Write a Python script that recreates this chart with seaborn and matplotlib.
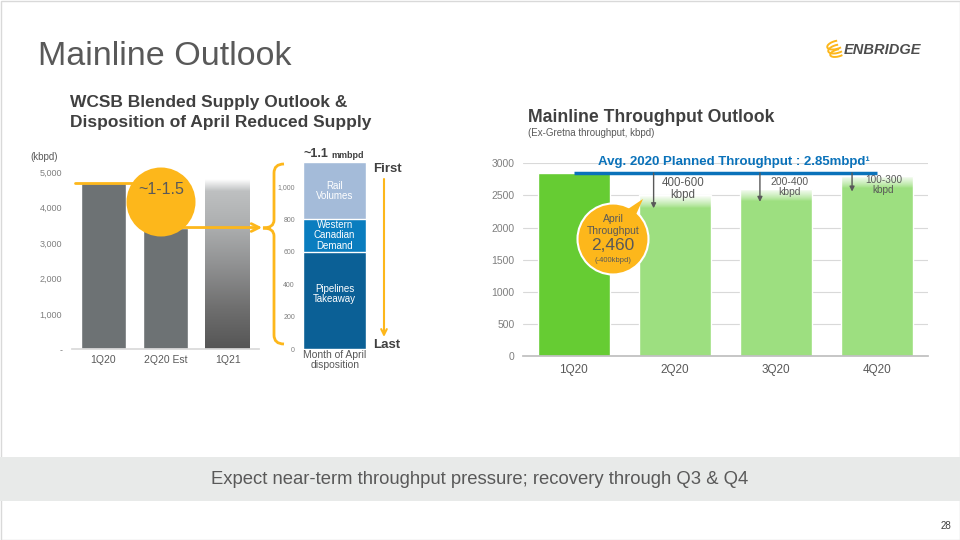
import numpy as np
import matplotlib
matplotlib.use("Agg")
import matplotlib.pyplot as plt
import seaborn as sns
from matplotlib.patches import Circle, Polygon, PathPatch, Rectangle, Arc
from matplotlib.path import Path

# ---------------- data ----------------
supply_periods = ["1Q20", "2Q20 Est", "1Q21"]
supply_kbpd = [4690, 3440, 4780]
supply_ticks = [0, 1000, 2000, 3000, 4000, 5000]
supply_ticklabels = ["-", "1,000", "2,000", "3,000", "4,000", "5,000"]

disp_category = ["Month of April\ndisposition"]
disp_segments = ["Pipelines\nTakeaway", "Western\nCanadian\nDemand", "Rail\nVolumes"]
disp_kbpd = [600, 200, 350]
disp_ticks = [0, 200, 400, 600, 800, 1000]
disp_ticklabels = ["0", "200", "400", "600", "800", "1,000"]

quarters = ["1Q20", "2Q20", "3Q20", "4Q20"]
throughput = [2850, 2500, 2600, 2800]
throughput_ticks = [0, 500, 1000, 1500, 2000, 2500, 3000]
planned_avg = 2850
reduction_labels = ["400-600\nkbpd", "200-400\nkbpd", "100-300\nkbpd"]
reduction_arrow_end = [2300, 2400, 2560]
april_throughput = 2460
april_change = -400

# ---------------- style ----------------
sns.set_theme(style="white")
plt.rcParams["font.family"] = ["Liberation Sans", "DejaVu Sans"]

GRAY_TXT = "#595959"
DARK_TXT = "#404040"
ORANGE = "#FDB71B"

fig = plt.figure(figsize=(9.6, 5.4), dpi=100)
W, H = 960, 540


def ax_px(l, t, r, b, **kw):
    return fig.add_axes([l / W, 1 - b / H, (r - l) / W, (b - t) / H], **kw)


# ---------------- left: supply bars ----------------
ax1 = ax_px(72, 172.3, 259, 349.3)
sns.barplot(x=supply_periods, y=supply_kbpd, hue=supply_periods,
            palette=["#6D7274"] * 3, legend=False, width=0.72,
            saturation=1, ax=ax1, zorder=2)
bar = ax1.patches[2]
x0, w, h = bar.get_x(), bar.get_width(), bar.get_height()
bar.set_facecolor("none")
n = 300
pos = np.linspace(1, 0, n)  # top -> bottom
stops = [0.0, 0.25, 0.5, 0.72, 0.93, 1.0]
cols = np.array([[85, 85, 85], [112, 112, 112], [145, 146, 147],
                 [172, 174, 175], [190, 192, 193], [255, 255, 255]]) / 255
grad = np.stack([np.interp(pos, stops, cols[:, c]) for c in range(3)], axis=1)
ax1.imshow(grad[:, None, :], extent=[x0, x0 + w, 0, h], aspect="auto",
           origin="upper", zorder=2.5)
ax1.set_xlim(-0.5, 2.5)
ax1.set_ylim(0, 5000)
ax1.set_yticks(supply_ticks)
ax1.set_yticklabels(supply_ticklabels)
ax1.tick_params(axis="y", length=0, pad=7, labelsize=6.5, labelcolor="#7F7F7F")
ax1.tick_params(axis="x", length=0, pad=4, labelsize=7.5, labelcolor=GRAY_TXT)
for s in ["left", "top", "right"]:
    ax1.spines[s].set_visible(False)
ax1.spines["bottom"].set_color("#D9D9D9")
ax1.set_xlabel("")
ax1.set_ylabel("")
ax1.grid(False)
# orange reference line and arrow
ax1.plot([-0.45, 0.9], [supply_kbpd[0]] * 2, color=ORANGE, lw=2,
         clip_on=False, zorder=4)
ax1.annotate("", xy=(2.55, supply_kbpd[1]), xytext=(1.0, supply_kbpd[1]),
             arrowprops=dict(arrowstyle="->", color=ORANGE, lw=2,
                             mutation_scale=14, shrinkA=0, shrinkB=0),
             annotation_clip=False, zorder=4)

# ---------------- middle: stacked disposition ----------------
ax2 = ax_px(303.3, 154.2, 366, 349)
seg_colors = ["#0B6096", "#0A7DBF", "#A4BBD9"]
cum = np.cumsum(disp_kbpd)
for i in reversed(range(len(disp_kbpd))):
    sns.barplot(x=disp_category, y=[cum[i]], color=seg_colors[i],
                saturation=1, width=1.0, ax=ax2)
offsets = [40, 0, 0]
for i, lab in enumerate(disp_segments):
    ax2.text(0, cum[i] - disp_kbpd[i] / 2 + offsets[i], lab, ha="center",
             va="center", color="white", fontsize=7, linespacing=1.05)
ax2.set_xlim(-0.5, 0.5)
ax2.set_ylim(0, 1200)
ax2.set_yticks(disp_ticks)
ax2.set_yticklabels(disp_ticklabels)
ax2.tick_params(axis="y", length=0, pad=6, labelsize=5, labelcolor="#7F7F7F")
ax2.tick_params(axis="x", length=0, pad=1, labelsize=7.5, labelcolor=GRAY_TXT)
for lbl in ax2.get_xticklabels():
    lbl.set_linespacing(0.95)
for s in ax2.spines.values():
    s.set_visible(False)
ax2.set_xlabel("")
ax2.set_ylabel("")
ax2.grid(False)

# ---------------- right: throughput ----------------
ax3 = ax_px(523, 163.3, 928, 356)
sns.barplot(x=quarters, y=throughput, hue=quarters,
            palette=["#66CC33"] + ["#9DDF80"] * 3, legend=False, width=0.71,
            saturation=1, ax=ax3, zorder=2)
fade = np.ones((100, 1, 4))
fade[:, 0, 3] = np.linspace(1, 0, 100) ** 0.8
for p in ax3.patches[1:]:
    px0, pw, ph = p.get_x(), p.get_width(), p.get_height()
    ax3.imshow(fade, extent=[px0, px0 + pw, ph - 190, ph], aspect="auto",
               origin="upper", zorder=2.5)
ax3.set_xlim(-0.5, 3.5)
ax3.set_ylim(0, 3000)
ax3.set_yticks(throughput_ticks)
ax3.yaxis.grid(True, color="#D9D9D9", lw=0.8)
ax3.xaxis.grid(False)
ax3.set_axisbelow(True)
ax3.tick_params(axis="y", length=0, pad=6, labelsize=7.5, labelcolor="#7F7F7F")
ax3.tick_params(axis="x", which="major", length=0, pad=6, labelsize=8.5,
                labelcolor=GRAY_TXT)
ax3.set_xticks(np.arange(len(quarters) + 1) - 0.5, minor=True)
ax3.tick_params(axis="x", which="minor", length=4, color="#BFBFBF", width=0.8)
for s in ["left", "top", "right"]:
    ax3.spines[s].set_visible(False)
ax3.spines["bottom"].set_color("#BFBFBF")
ax3.set_xlabel("")
ax3.set_ylabel("")
ax3.hlines(planned_avg, 0, len(quarters) - 1, color="#0A72BA", lw=2.5, zorder=5)
ax3.text(1.58, planned_avg + 170, "Avg. 2020 Planned Throughput : 2.85mbpd\u00b9",
         ha="center", va="center", color="#0A72BA", fontsize=9.5,
         fontweight="bold", zorder=6)
arrow_x = [0.79, 1.84, 2.75]
label_pos = [(1.08, 2600, 8.3), (2.13, 2630, 7.5), (3.06, 2660, 7.2)]
for ax_x, yend, lab, (lx, ly, fs) in zip(arrow_x, reduction_arrow_end,
                                         reduction_labels, label_pos):
    ax3.annotate("", xy=(ax_x, yend), xytext=(ax_x, planned_avg),
                 arrowprops=dict(arrowstyle="-|>", color=GRAY_TXT, lw=1,
                                 mutation_scale=7, shrinkA=0, shrinkB=0),
                 zorder=6)
    ax3.text(lx, ly, lab, ha="center", va="center", color=GRAY_TXT,
             fontsize=fs, linespacing=1.0, zorder=6)

# ---------------- overlay (pixel coords) ----------------
ov = fig.add_axes([0, 0, 1, 1], zorder=10)
ov.set_xlim(0, W)
ov.set_ylim(H, 0)
ov.axis("off")

ov.add_patch(Rectangle((0.5, 0.5), W - 1, H - 1, fill=False,
                       edgecolor="#D9D9D9", lw=1))
ov.add_patch(Rectangle((0, 457), W, 44, facecolor="#E8EAE9", edgecolor="none"))
ov.text(480, 479, "Expect near-term throughput pressure; recovery through Q3 & Q4",
        ha="center", va="center", fontsize=13.3, color=GRAY_TXT)
ov.text(946, 526, "28", ha="center", va="center", fontsize=7, color=DARK_TXT)

ov.text(38, 65, "Mainline Outlook", fontsize=24.5, color=GRAY_TXT, va="baseline")
ov.text(70, 107, "WCSB Blended Supply Outlook &", fontsize=12.5,
        fontweight="bold", color=DARK_TXT, va="baseline")
ov.text(70, 127, "Disposition of April Reduced Supply", fontsize=12.5,
        fontweight="bold", color=DARK_TXT, va="baseline")
ov.text(528, 122, "Mainline Throughput Outlook", fontsize=12.7,
        fontweight="bold", color=DARK_TXT, va="baseline")
ov.text(528, 136, "(Ex-Gretna throughput, kbpd)", fontsize=7,
        color=GRAY_TXT, va="baseline")
ov.text(30, 160, "(kbpd)", fontsize=7, color=GRAY_TXT, va="baseline")

# logo
for (cx, cy, wd, ht) in [(836, 45, 18, 8), (837, 49, 18, 8), (838, 53, 16, 7)]:
    ov.add_patch(Arc((cx, cy), wd, ht, angle=-15, theta1=40,
                     theta2=300, color=ORANGE, lw=1.4))
ov.text(882, 50, "ENBRIDGE", fontsize=10.5, fontweight="bold",
        fontstyle="italic", color="#4D4D4D", ha="center", va="center")

# left callout circle
ov.add_patch(Circle((161, 202), 34.5, facecolor=ORANGE, edgecolor="none"))
ov.text(161, 190, "~1-1.5", ha="center", va="center", fontsize=11.5,
        color=GRAY_TXT)

# brace
verts = [(284, 164), (274, 164), (274, 173), (274, 220), (274, 228), (263, 228),
         (274, 228), (274, 236), (274, 335), (274, 344), (284, 344)]
codes = [Path.MOVETO, Path.CURVE3, Path.CURVE3, Path.LINETO, Path.CURVE3,
         Path.CURVE3, Path.CURVE3, Path.CURVE3, Path.LINETO, Path.CURVE3,
         Path.CURVE3]
ov.add_patch(PathPatch(Path(verts, codes), fill=False, edgecolor=ORANGE, lw=2))

# ~1.1 mmbpd, First / Last
ov.text(328, 154, "~1.1", ha="right", va="center", fontsize=9,
        fontweight="bold", color=DARK_TXT)
ov.text(331, 155, "mmbpd", ha="left", va="center", fontsize=6.5,
        fontweight="bold", color=DARK_TXT)
ov.text(373, 169, "First", ha="left", va="center", fontsize=9.5,
        fontweight="bold", color=DARK_TXT)
ov.text(373, 345, "Last", ha="left", va="center", fontsize=9.5,
        fontweight="bold", color=DARK_TXT)
ov.annotate("", xy=(384, 337), xytext=(384, 179),
            arrowprops=dict(arrowstyle="->", color=ORANGE, lw=1.5,
                            mutation_scale=10, shrinkA=0, shrinkB=0))

# right callout
ov.add_patch(Circle((613, 239), 35.5, facecolor=ORANGE, edgecolor="white", lw=1.5))
ov.add_patch(Polygon([(622, 213), (643, 199), (634, 219)], closed=True,
                     facecolor=ORANGE, edgecolor="none"))
ov.text(613, 219, "April", ha="center", va="center", fontsize=7.5, color=GRAY_TXT)
ov.text(613, 231, "Throughput", ha="center", va="center", fontsize=7.5,
        color=GRAY_TXT)
ov.text(613, 246, f"{april_throughput:,}", ha="center", va="center",
        fontsize=12.5, color=GRAY_TXT)
ov.text(613, 260, f"({april_change}kbpd)", ha="center", va="center",
        fontsize=5.5, color=GRAY_TXT)

fig.savefig("out.png", dpi=100)
